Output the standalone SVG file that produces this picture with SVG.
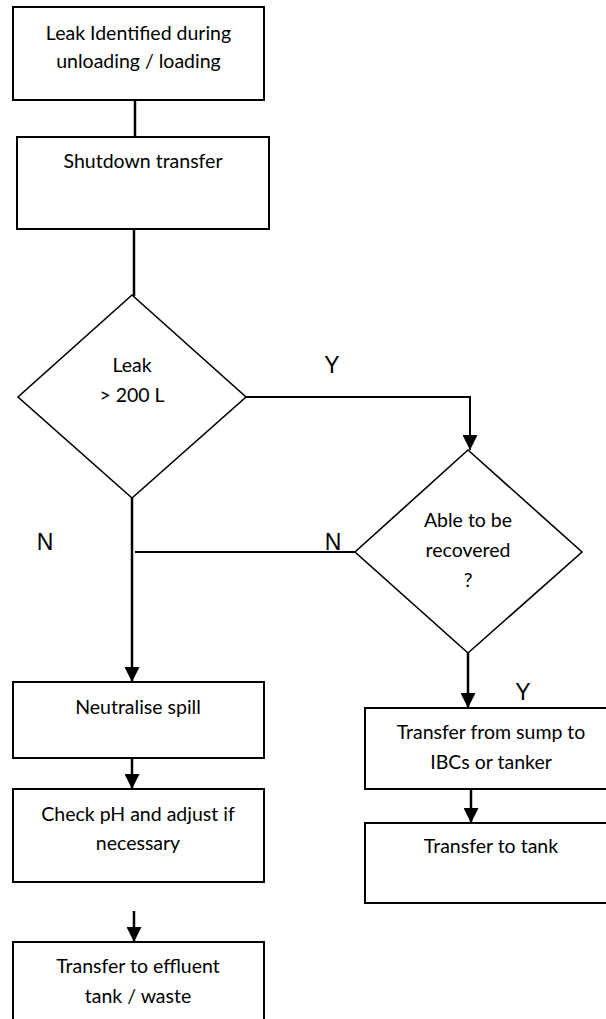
<svg xmlns="http://www.w3.org/2000/svg" width="606" height="1019" viewBox="0 0 606 1019">
  <style>
    .box { fill: #ffffff; stroke: #000000; stroke-width: 2; }
    .dia { fill: #ffffff; stroke: #000000; stroke-width: 1.6; }
    .lbl { font-family: "Lato", "Liberation Sans", sans-serif; font-size: 19.5px; fill: #000000; text-anchor: middle; }
    .yn { font-family: "Liberation Sans", Arial, sans-serif; font-size: 23px; fill: #000000; text-anchor: middle; }
    .conn { fill: none; stroke: #000000; stroke-width: 2.5; }
    .thin { fill: none; stroke: #000000; stroke-width: 2; }
  </style>
  <defs>
    <marker id="arrow" viewBox="0 0 15 15" refX="15" refY="7.5" markerWidth="15" markerHeight="15" markerUnits="userSpaceOnUse" orient="auto">
      <path d="M0,0 L15,7.5 L0,15 z" fill="#000000"/>
    </marker>
  </defs>
  <rect width="606" height="1019" fill="#ffffff"/>

  <!-- connectors -->
  <g id="connectors">
    <line class="conn" x1="135" y1="100" x2="135" y2="137"/>
    <line class="conn" x1="134" y1="229" x2="134" y2="296"/>
    <path class="thin" d="M245,397 H470 V450" marker-end="url(#arrow)"/>
    <line class="conn" x1="132" y1="498" x2="132" y2="682" marker-end="url(#arrow)"/>
    <line class="thin" x1="135" y1="552" x2="355" y2="552"/>
    <line class="conn" x1="468" y1="653" x2="468" y2="708" marker-end="url(#arrow)"/>
    <line class="conn" x1="471" y1="789" x2="471" y2="823" marker-end="url(#arrow)"/>
    <line class="conn" x1="132" y1="758" x2="132" y2="789" marker-end="url(#arrow)"/>
    <line class="conn" x1="134" y1="911" x2="134" y2="942" marker-end="url(#arrow)"/>
    <text class="yn" x="332" y="373">Y</text>
    <text class="yn" x="45" y="550">N</text>
    <text class="yn" x="333" y="550">N</text>
    <text class="yn" x="523" y="700">Y</text>
  </g>

  <g id="leak-identified">
    <rect class="box" x="13" y="7" width="251" height="93"/>
    <text class="lbl" x="138.5" y="40">Leak Identified during</text>
    <text class="lbl" x="138.5" y="68">unloading / loading</text>
  </g>

  <g id="shutdown">
    <rect class="box" x="17" y="137" width="252" height="92"/>
    <text class="lbl" x="143" y="168">Shutdown transfer</text>
  </g>

  <g id="leak-over-200">
    <polygon class="dia" points="132,295 246,397 132,498 18,397"/>
    <text class="lbl" x="132" y="372">Leak</text>
    <text class="lbl" x="132" y="402">&gt; 200 L</text>
  </g>

  <g id="recoverable">
    <polygon class="dia" points="468,450 582,552 468,653 355,552"/>
    <text class="lbl" x="468" y="527">Able to be</text>
    <text class="lbl" x="468" y="557">recovered</text>
    <text class="lbl" x="468" y="587">?</text>
  </g>

  <g id="neutralise">
    <rect class="box" x="13" y="682" width="251" height="76"/>
    <text class="lbl" x="138" y="714">Neutralise spill</text>
  </g>

  <g id="check-ph">
    <rect class="box" x="13" y="789" width="251" height="93"/>
    <text class="lbl" x="138" y="821">Check pH and adjust if</text>
    <text class="lbl" x="138" y="850">necessary</text>
  </g>

  <g id="effluent">
    <rect class="box" x="13" y="942" width="251" height="90"/>
    <text class="lbl" x="138" y="973">Transfer to effluent</text>
    <text class="lbl" x="138" y="1003">tank / waste</text>
  </g>

  <g id="sump-transfer">
    <rect class="box" x="365" y="708" width="253" height="81"/>
    <text class="lbl" x="491" y="739">Transfer from sump to</text>
    <text class="lbl" x="491" y="769">IBCs or tanker</text>
  </g>

  <g id="tank-transfer">
    <rect class="box" x="365" y="823" width="253" height="80"/>
    <text class="lbl" x="491" y="853">Transfer to tank</text>
  </g>
</svg>
